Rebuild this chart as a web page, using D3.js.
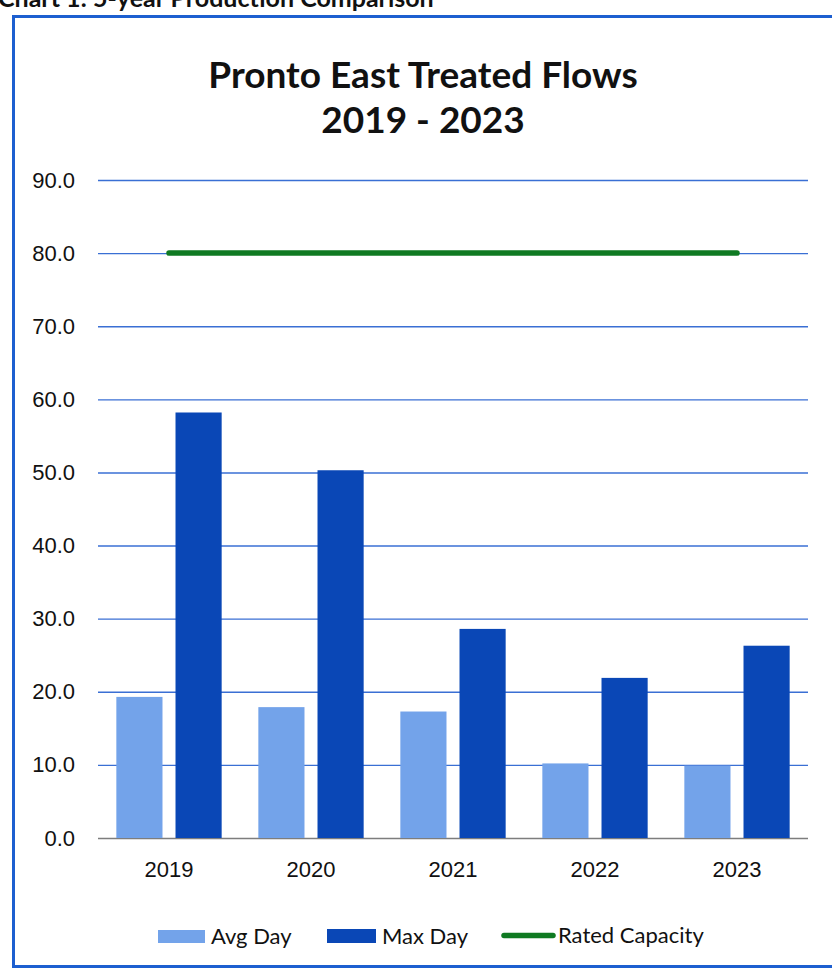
<!DOCTYPE html>
<html>
<head>
<meta charset="utf-8">
<script src="https://cdn.jsdelivr.net/npm/d3@7"></script>
<style>
  html, body { margin: 0; padding: 0; background: #fff; }
  svg { display: block; font-family: Lato, "Open Sans", sans-serif; }
</style>
</head>
<body>
<svg id="chart" width="832" height="969"></svg>
<script>
// ---- data ----
const years = ["2019", "2020", "2021", "2022", "2023"];
const avgDay = [19.3, 17.9, 17.3, 10.2, 9.9];
const maxDay = [58.2, 50.3, 28.6, 21.9, 26.3];
const ratedCapacity = [80, 80, 80, 80, 80];
const yTicks = [0, 10, 20, 30, 40, 50, 60, 70, 80, 90];
const seriesNames = ["Avg Day", "Max Day", "Rated Capacity"];

// ---- styles ----
const cAvg = "#73a3ea", cMax = "#0a47b6", cCap = "#0f7a22", cGrid = "#3a6fd4", cBorder = "#1c5fd0";

const svg = d3.select("#chart");

// page heading (cut off at top, as in the scan)
svg.append("text").attr("x", -2).attr("y", 7)
  .attr("font-size", 25).attr("font-weight", "bold").attr("fill", "#111")
  .text("Chart 1: 5-year Production Comparison");

// chart frame
svg.append("rect").attr("x", 13.5).attr("y", 16.5).attr("width", 840).attr("height", 950)
  .attr("fill", "#fff").attr("stroke", cBorder).attr("stroke-width", 3);

// title
svg.append("text").attr("x", 423).attr("y", 88).attr("text-anchor", "middle")
  .attr("font-size", 37).attr("font-weight", "bold").attr("fill", "#111")
  .text("Pronto East Treated Flows");
svg.append("text").attr("x", 423).attr("y", 133).attr("text-anchor", "middle")
  .attr("font-size", 37).attr("font-weight", "bold").attr("fill", "#111")
  .text("2019 - 2023");

const x0 = 98, x1 = 808;
const x = d3.scaleBand().domain(years).range([x0, x1]).paddingInner(0).paddingOuter(0);
const xs = d3.scaleBand().domain(["avg", "max"]).range([0, x.bandwidth()])
  .paddingInner(0.22).paddingOuter(0.31);
const y = d3.scaleLinear().domain([0, 90]).range([838, 180]);

// grid + y axis
const yAxis = d3.axisLeft(y).tickValues(yTicks).tickFormat(d3.format(".1f"))
  .tickSize(-(x1 - x0)).tickPadding(23);
const gy = svg.append("g").attr("transform", `translate(${x0},0)`).call(yAxis);
gy.select(".domain").remove();
gy.selectAll(".tick line").attr("stroke", d => d === 0 ? "#7d7d7d" : cGrid).attr("stroke-width", 1.4);
gy.selectAll(".tick text").attr("font-size", 22).attr("fill", "#111");

// bars
const rows = years.map((yr, i) => ({ yr, avg: avgDay[i], max: maxDay[i], cap: ratedCapacity[i] }));
const groups = svg.append("g").selectAll("g").data(rows).join("g")
  .attr("transform", d => `translate(${x(d.yr)},0)`);
groups.append("rect").attr("x", xs("avg")).attr("width", xs.bandwidth())
  .attr("y", d => y(d.avg)).attr("height", d => y(0) - y(d.avg)).attr("fill", cAvg);
groups.append("rect").attr("x", xs("max")).attr("width", xs.bandwidth())
  .attr("y", d => y(d.max)).attr("height", d => y(0) - y(d.max)).attr("fill", cMax);

// rated capacity line
const line = d3.line().x(d => x(d.yr) + x.bandwidth() / 2).y(d => y(d.cap));
svg.append("path").datum(rows).attr("d", line).attr("fill", "none")
  .attr("stroke", cCap).attr("stroke-width", 5.5).attr("stroke-linecap", "round");

// x axis labels
const xAxis = d3.axisBottom(x).tickSize(0).tickPadding(23);
const gx = svg.append("g").attr("transform", `translate(0,${y(0)})`).call(xAxis);
gx.select(".domain").remove();
gx.selectAll(".tick text").attr("font-size", 22).attr("fill", "#111");

// legend
const lg = svg.append("g").attr("font-size", 22).attr("fill", "#111");
lg.append("rect").attr("x", 158).attr("y", 930).attr("width", 47).attr("height", 13).attr("fill", cAvg);
lg.append("text").attr("x", 211).attr("y", 944).text(seriesNames[0]);
lg.append("rect").attr("x", 327).attr("y", 929).attr("width", 49).attr("height", 14).attr("fill", cMax);
lg.append("text").attr("x", 382).attr("y", 944).text(seriesNames[1]);
lg.append("line").attr("x1", 504).attr("x2", 553).attr("y1", 935.5).attr("y2", 935.5)
  .attr("stroke", cCap).attr("stroke-width", 5.5).attr("stroke-linecap", "round");
lg.append("text").attr("x", 558).attr("y", 943).text(seriesNames[2]);
</script>
</body>
</html>
